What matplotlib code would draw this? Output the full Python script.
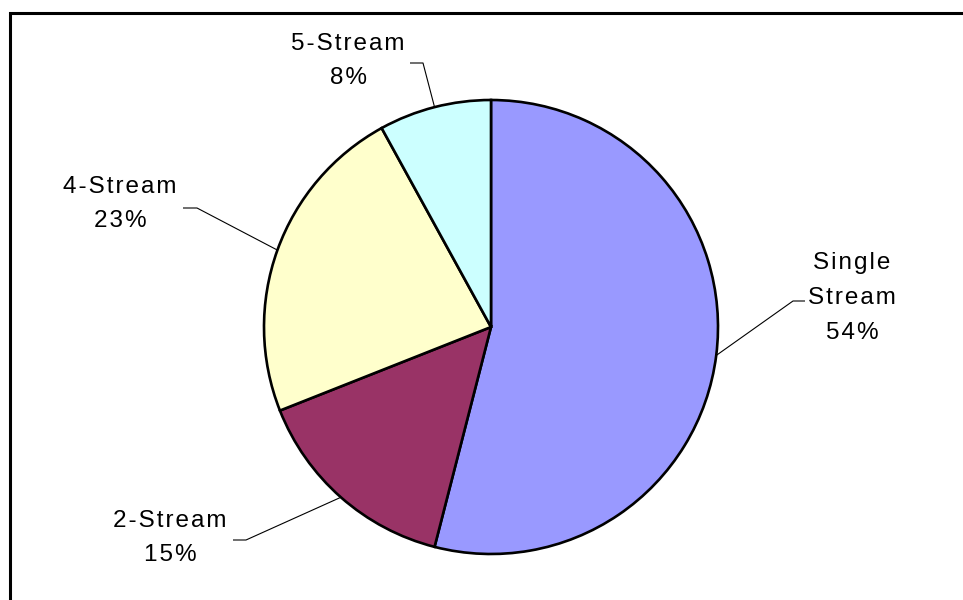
import numpy as np
import matplotlib
matplotlib.use("Agg")
import matplotlib.pyplot as plt
from matplotlib.patches import Rectangle

categories = ["Single Stream", "2-Stream", "4-Stream", "5-Stream"]
label_lines = [["Single", "Stream"], ["2-Stream"], ["4-Stream"], ["5-Stream"]]
shares = [54, 15, 23, 8]
colors = ["#9999FF", "#993366", "#FFFFCC", "#CCFFFF"]

W, H = 963, 600
fig = plt.figure(figsize=(W / 100, H / 100), dpi=100)
ax = fig.add_axes([0, 0, 1, 1])

FAM = ["Liberation Sans Narrow", "Liberation Sans", "DejaVu Sans"]
SP = "\u200a"

def spaced(s):
    return SP.join(list(s))

cx, cy, R = 491, H - 327, 227
wedges, _ = ax.pie(shares, colors=colors, startangle=90, counterclock=False,
                   radius=R, center=(cx, cy), frame=True,
                   wedgeprops=dict(edgecolor="black", linewidth=1.9))
ax.set_xlim(0, W)
ax.set_ylim(0, H)
ax.set_aspect("equal")
ax.axis("off")

# frame (only top and left visible)
ax.add_patch(Rectangle((10, -20), W + 20, H - 13 + 20, fill=False,
                       edgecolor="black", linewidth=2.2, clip_on=False))

# label layout: text centre (px), elbow (px), horizontal end (px)
layout = [
    dict(text=(852, 298), elbow=(793, 301), end=(805, 301)),
    dict(text=(170, 538), elbow=(246, 540), end=(233, 540)),
    dict(text=(120, 204), elbow=(197, 208), end=(183, 208)),
    dict(text=(348, 61), elbow=(423, 63), end=(410, 63)),
]

cum = np.cumsum([0] + shares)
for i, (lines, v) in enumerate(zip(label_lines, shares)):
    mid = 90 - 360 * (cum[i] + v / 2) / 100
    a = np.deg2rad(mid)
    sx, sy = cx + R * np.cos(a), cy + R * np.sin(a)
    L = layout[i]
    ex, ey = L["elbow"]
    hx, hy = L["end"]
    ax.plot([sx, ex, hx], [sy, H - ey, H - hy], color="black", lw=0.8,
            solid_capstyle="butt")
    txt = "\n".join([spaced(t) for t in lines] + [spaced(f"{v}%")])
    tx, ty = L["text"]
    ax.text(tx, H - ty, txt, ha="center", va="center", fontsize=17.5,
            family=FAM, linespacing=1.76, multialignment="center")

fig.savefig("out.png", dpi=100, facecolor="white")
